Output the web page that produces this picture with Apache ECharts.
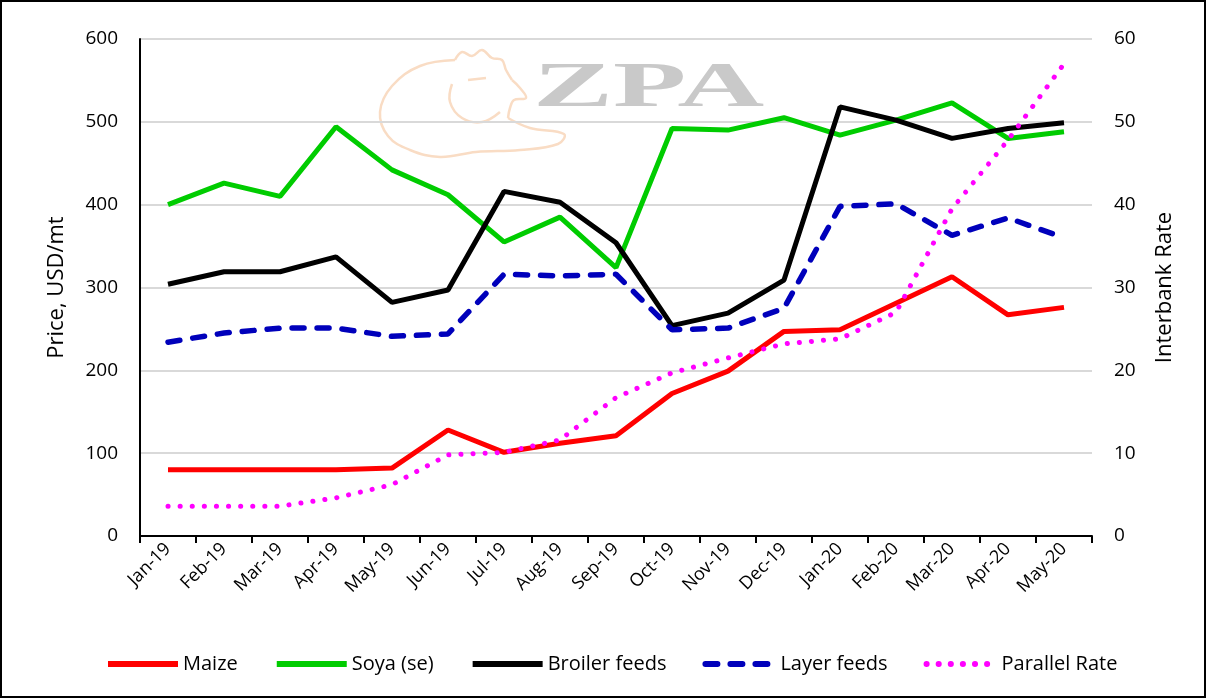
<!DOCTYPE html>
<html>
<head>
<meta charset="utf-8">
<script src="https://cdn.jsdelivr.net/npm/echarts@6/dist/echarts.min.js"></script>
<style>
    html, body { margin: 0; padding: 0; background: #fff; }
    #chart { width: 1207px; height: 699px; }
</style>
</head>
<body>
<div id="chart"></div>
<script>
    var months = ['Jan-19','Feb-19','Mar-19','Apr-19','May-19','Jun-19','Jul-19','Aug-19','Sep-19',
                  'Oct-19','Nov-19','Dec-19','Jan-20','Feb-20','Mar-20','Apr-20','May-20'];
    var maize   = [80, 80, 80, 80, 82, 128, 101, 112, 121, 172, 199, 247, 249, 281, 313, 267, 276];
    var soya    = [400, 426, 410, 494, 442, 412, 355, 385, 324, 492, 490, 505, 484, 502, 523, 480, 488];
    var broiler = [304, 319, 319, 337, 282, 297, 416, 403, 354, 254, 269, 309, 518, 502, 480, 492, 499];
    var layer   = [234, 245, 251, 251, 241, 244, 316, 314, 316, 249, 251, 275, 398, 401, 363, 384, 360];
    var parallel = [3.6, 3.6, 3.6, 4.6, 6.2, 9.8, 10.1, 11.6, 16.7, 19.7, 21.5, 23.2, 23.8, 27.0, 39.5, 47.8, 57.0];

    var leftTicks = [0, 600, 100];
    var rightTicks = [0, 60, 10];

    var font = 'Open Sans';
    var chart = echarts.init(document.getElementById('chart'));

    // faint chicken outline behind the ZPA watermark
    var chickenStyle = { fill: 'none', stroke: '#f9dcc4', lineWidth: 2.5 };
    var chicken = [
        [[455, 60], [420, 66], [392, 86], [380, 112], [388, 136], [410, 150], [440, 157], [476, 152], [520, 150], [558, 144], [564, 134], [530, 128], [508, 118]],
        [[455, 60], [462, 52], [472, 56], [482, 50], [492, 58], [502, 60], [506, 70], [512, 80]],
        [[512, 80], [520, 88], [526, 98], [514, 100], [510, 108], [508, 118]],
        [[452, 84], [450, 102], [462, 118], [482, 122], [500, 112]],
        [[468, 80], [486, 78]]
    ];

    var option = {
        backgroundColor: '#fff',
        animation: false,
        textStyle: { fontFamily: font },
        grid: { left: 140, right: 115, top: 39, bottom: 163 },
        graphic: [
            {
                type: 'rect', z: -20, silent: true,
                shape: { x: 1, y: 1, width: 1204, height: 696 },
                style: { fill: 'none', stroke: '#000', lineWidth: 2 }
            }
        ].concat(chicken.map(function (pts) {
            return {
                type: 'polyline', z: -10, silent: true,
                shape: { points: pts, smooth: 0.4 },
                style: chickenStyle
            };
        })).concat([
            {
                type: 'text', z: -10, silent: true,
                x: 533, y: 58, scaleX: 2.0, scaleY: 1.05,
                style: {
                    text: 'ZPA',
                    font: 'bold 60px "Liberation Serif"',
                    fill: '#c9c9c9',
                    shadowColor: 'rgba(0,0,0,0.10)',
                    shadowBlur: 3,
                    shadowOffsetX: 2,
                    shadowOffsetY: 2
                }
            }
        ]),
        legend: {
            bottom: 20,
            left: 100,
            itemWidth: 70,
            itemHeight: 8,
            itemGap: 36,
            itemStyle: { opacity: 0 },
            lineStyle: { width: 6 },
            textStyle: { fontFamily: font, fontSize: 20, color: '#000' },
            data: ['Maize', 'Soya (se)', 'Broiler feeds', 'Layer feeds', 'Parallel Rate']
        },
        xAxis: {
            type: 'category',
            data: months,
            boundaryGap: true,
            axisLine: { lineStyle: { color: '#000', width: 2 } },
            axisTick: { show: true, length: 7, lineStyle: { color: '#000', width: 2 } },
            axisLabel: { rotate: 45, color: '#000', fontSize: 18, margin: 10, fontFamily: font }
        },
        yAxis: [
            {
                type: 'value',
                min: leftTicks[0], max: leftTicks[1], interval: leftTicks[2],
                name: 'Price, USD/mt',
                nameLocation: 'middle',
                nameGap: 72,
                nameTextStyle: { fontSize: 22, color: '#000', fontFamily: font },
                axisLine: { show: true, lineStyle: { color: '#000', width: 2 } },
                axisTick: { show: false },
                axisLabel: { color: '#000', fontSize: 19, margin: 22, fontFamily: font },
                splitLine: { show: true, lineStyle: { color: '#d9d9d9', width: 2 } }
            },
            {
                type: 'value',
                min: rightTicks[0], max: rightTicks[1], interval: rightTicks[2],
                name: 'Interbank Rate',
                nameLocation: 'middle',
                nameGap: 62,
                nameTextStyle: { fontSize: 22, color: '#000', fontFamily: font },
                axisLine: { show: false },
                axisTick: { show: false },
                axisLabel: { color: '#000', fontSize: 19, margin: 22, fontFamily: font },
                splitLine: { show: false }
            }
        ],
        series: [
            {
                name: 'Maize', type: 'line', data: maize, yAxisIndex: 0,
                showSymbol: false, symbol: 'none', color: '#ff0000',
                lineStyle: { width: 5, color: '#ff0000' }, z: 5
            },
            {
                name: 'Soya (se)', type: 'line', data: soya, yAxisIndex: 0,
                showSymbol: false, symbol: 'none', color: '#00cc00',
                lineStyle: { width: 5, color: '#00cc00' }, z: 3
            },
            {
                name: 'Broiler feeds', type: 'line', data: broiler, yAxisIndex: 0,
                showSymbol: false, symbol: 'none', color: '#000000',
                lineStyle: { width: 5, color: '#000000' }, z: 4
            },
            {
                name: 'Layer feeds', type: 'line', data: layer, yAxisIndex: 0,
                showSymbol: false, symbol: 'none', color: '#0000bb',
                lineStyle: { width: 5.5, color: '#0000bb', type: [12, 13], cap: 'round' }, z: 4
            },
            {
                name: 'Parallel Rate', type: 'line', data: parallel, yAxisIndex: 1,
                showSymbol: false, symbol: 'none', color: '#ff00ff',
                lineStyle: { width: 5, color: '#ff00ff', type: [0.1, 12], cap: 'round' }, z: 6
            }
        ]
    };

    chart.setOption(option);
</script>
</body>
</html>
